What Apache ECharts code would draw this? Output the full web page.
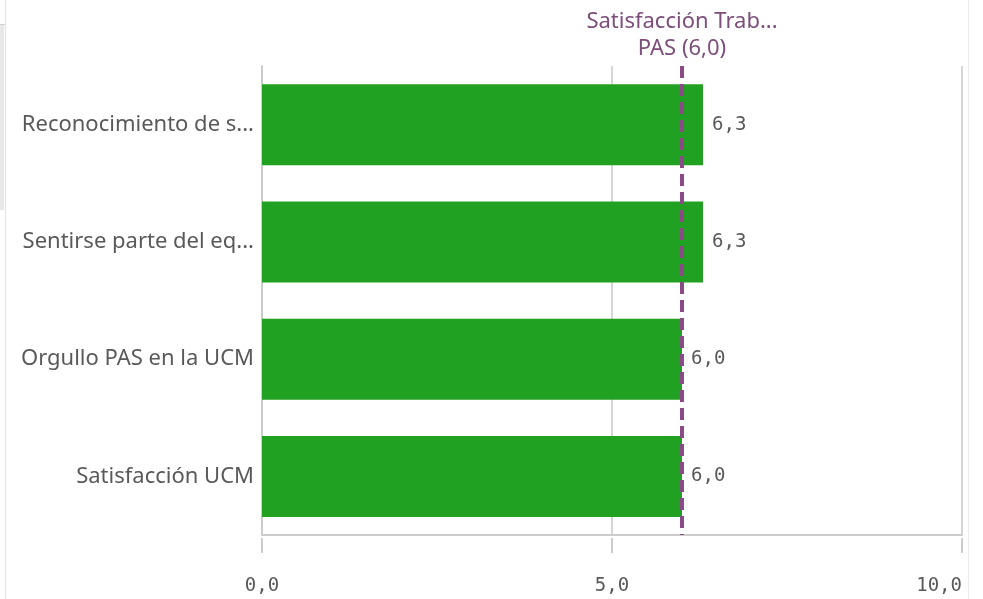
<!DOCTYPE html>
<html>
<head>
<meta charset="utf-8">
<script src="https://cdn.jsdelivr.net/npm/echarts@6/dist/echarts.min.js"></script>
<style>
  html, body { margin: 0; padding: 0; background: #ffffff; }
  #chart { width: 983px; height: 599px; }
</style>
</head>
<body>
<div id="chart"></div>
<script>
// Categories listed top to bottom
const categories = [
  'Reconocimiento de s...',
  'Sentirse parte del eq...',
  'Orgullo PAS en la UCM',
  'Satisfacción UCM'
];
const values = [6.3, 6.3, 6.0, 6.0];

// Reference line
const refValue = 6.0;
const refLabel = 'Satisfacción Trab...\nPAS';

const xTicks = [0, 5, 10];

const fmt = v => Number(v).toFixed(1).replace('.', ',');
const mono = '"DejaVu Sans Mono", "Liberation Mono", monospace';
const sans = '"Noto Sans", "Open Sans", sans-serif';

const chart = echarts.init(document.getElementById('chart'), null, { renderer: 'canvas' });

chart.setOption({
  animation: false,
  backgroundColor: '#ffffff',
  graphic: [
    { type: 'rect', shape: { x: 0, y: 25, width: 4, height: 185 }, style: { fill: '#e8e8e8' }, silent: true },
    { type: 'rect', shape: { x: 0, y: 24, width: 5, height: 1 }, style: { fill: '#d0d0d0' }, silent: true },
    { type: 'rect', shape: { x: 5, y: 0, width: 1, height: 599 }, style: { fill: '#e2e2e2' }, silent: true },
    { type: 'rect', shape: { x: 968, y: 0, width: 1, height: 599 }, style: { fill: '#ececec' }, silent: true }
  ],
  grid: { left: 262, right: 21, top: 66, bottom: 64, containLabel: false, outerBoundsMode: 'none' },
  xAxis: [
    {
      type: 'value', min: xTicks[0], max: xTicks[xTicks.length - 1], interval: 5,
      position: 'bottom',
      axisLine: { show: true, lineStyle: { color: '#cccccc', width: 2 } },
      axisTick: { show: false },
      axisLabel: { show: false },
      splitLine: { show: true, lineStyle: { color: '#d6d6d6', width: 2 } }
    },
    {
      type: 'value', min: xTicks[0], max: xTicks[xTicks.length - 1], interval: 5,
      position: 'bottom', offset: 3,
      axisLine: { show: false },
      axisTick: { show: true, length: 15, lineStyle: { color: '#cccccc', width: 2 } },
      axisLabel: {
        show: true, margin: 39, color: '#595959',
        fontFamily: mono, fontSize: 19, alignMaxLabel: 'right',
        formatter: v => fmt(v)
      },
      splitLine: { show: false }
    }
  ],
  yAxis: {
    type: 'category', data: categories, inverse: true,
    axisLine: { show: true, lineStyle: { color: '#cccccc', width: 2 } },
    axisTick: { show: false },
    axisLabel: { margin: 8, color: '#595959', fontFamily: sans, fontSize: 22 },
    splitLine: { show: false }
  },
  series: [{
    type: 'bar',
    xAxisIndex: 0,
    data: values,
    barWidth: 81,
    itemStyle: { color: '#21a121' },
    label: {
      show: true, position: 'right', distance: 9,
      color: '#595959', fontFamily: mono, fontSize: 19,
      formatter: p => fmt(p.value)
    },
    markLine: {
      silent: true,
      symbol: ['none', 'none'],
      lineStyle: { color: '#8a4a87', width: 4, type: [12, 6] },
      label: {
        show: true, position: 'start', distance: 4,
        color: '#7d4d7b', fontFamily: sans, fontSize: 22, lineHeight: 27,
        formatter: refLabel + ' (' + fmt(refValue) + ')'
      },
      data: [{ xAxis: refValue }]
    }
  }]
});
</script>
</body>
</html>
